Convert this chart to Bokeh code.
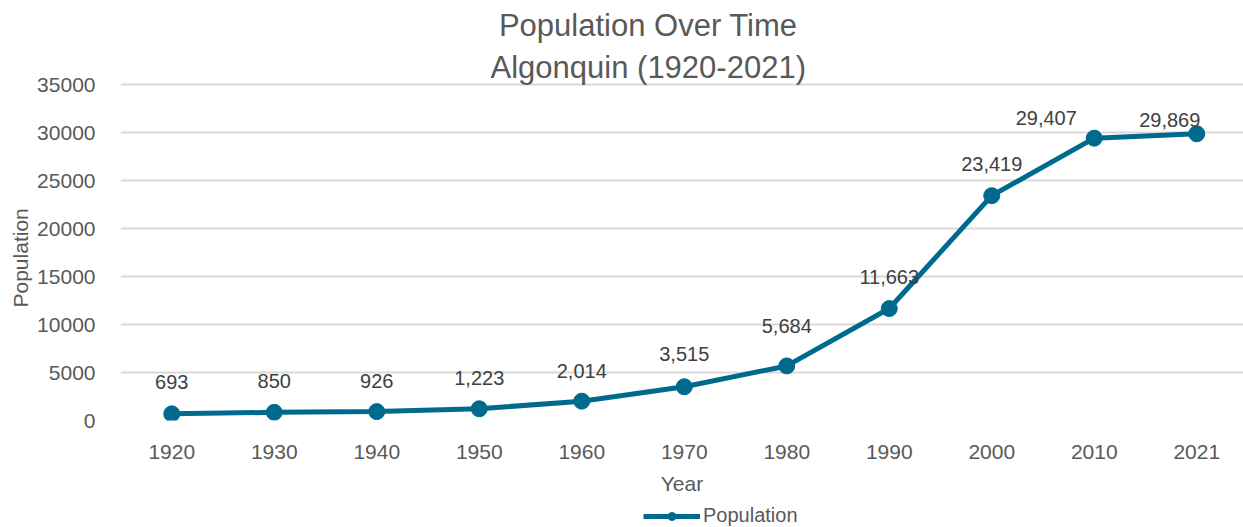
from bokeh.plotting import figure
from bokeh.layouts import column
from bokeh.models import (ColumnDataSource, Range1d, FixedTicker, Label, Legend, LegendItem, Title)
from bokeh.core.properties import value
from bokeh.embed import file_html
from bokeh.resources import INLINE

# ---- data ----
years = ["1920", "1930", "1940", "1950", "1960", "1970", "1980", "1990", "2000", "2010", "2021"]
population = [693, 850, 926, 1223, 2014, 3515, 5684, 11663, 23419, 29407, 29869]
y_ticks = [0, 5000, 10000, 15000, 20000, 25000, 30000, 35000]
title_lines = ["Population Over Time", "Algonquin (1920-2021)"]
x_label = "Year"
y_label = "Population"
series_name = "Population"

# label placement (pixels, style only)
lab_dx = [0, 0, 0, 0, 0, 0, 0, 0, 0, -48, -27]
lab_dy = [-32, -31, -31, -31, -30, -33, -40, -32, -32, -20, -14]

FONT = "'Liberation Sans', Arial, sans-serif"
GREY = "#595959"
DARK = "#404040"
BLUE = "#006a8e"

# layout in pixels
W, H, LEG_H = 1243, 527, 24
H_MAIN = H - LEG_H
FRAME_L, GRID_TOP, FRAME_B = 120, 84, 420
CAT_W = 102.5
px_unit = 35000 / (FRAME_B - GRID_TOP)
y_top = 35000 + GRID_TOP * px_unit

xs = list(range(len(years)))
src = ColumnDataSource(dict(
    x=xs, y=population,
    lab=[f"{v:,}" for v in population],
    dx=lab_dx, dy=lab_dy,
))

p = figure(width=W, height=H_MAIN, output_backend="svg", toolbar_location=None,
           x_range=Range1d(-0.5, -0.5 + (W - FRAME_L) / CAT_W), y_range=Range1d(0, y_top),
           min_border_left=FRAME_L, min_border_right=0, min_border_top=0,
           min_border_bottom=H_MAIN - FRAME_B)
p.outline_line_color = None
p.background_fill_color = "white"
p.border_fill_color = "white"

# grid
p.xgrid.grid_line_color = None
p.ygrid.grid_line_color = "#d9d9d9"
p.ygrid.grid_line_width = 2
p.yaxis.ticker = FixedTicker(ticks=y_ticks)
p.xaxis.ticker = FixedTicker(ticks=xs)
p.xaxis.major_label_overrides = {i: y for i, y in enumerate(years)}

for ax in (p.xaxis[0], p.yaxis[0]):
    ax.axis_line_color = None
    ax.major_tick_line_color = None
    ax.minor_tick_line_color = None
    ax.major_label_text_font = FONT
    ax.major_label_text_font_size = "21px"
    ax.major_label_text_color = GREY
    ax.axis_label_text_font = FONT
    ax.axis_label_text_font_size = "21px"
    ax.axis_label_text_font_style = "normal"
    ax.axis_label_text_color = GREY

p.xaxis.axis_label = x_label
p.xaxis.major_label_standoff = 18
p.xaxis.axis_label_standoff = 10
p.yaxis.major_label_standoff = 19

# y-axis title, placed along the gridded part of the frame
p.add_layout(Title(text=y_label, align="left", offset=113, standoff=5,
                   text_font=FONT, text_font_size="21px", text_font_style="normal",
                   text_color=GREY), "left")

p.line("x", "y", source=src, line_color=BLUE, line_width=5)
p.scatter("x", "y", source=src, size=16, fill_color=BLUE, line_color=BLUE)

p.text("x", "y", text="lab", source=src, x_offset="dx", y_offset="dy",
       text_align="center", text_baseline="middle",
       text_font=value(FONT), text_font_size="20px", text_color=DARK)

# chart title (two lines)
p.add_layout(Label(x=5, y=35000, x_offset=-36, y_offset=59, text=title_lines[0],
                   text_align="center", text_baseline="middle", text_font=FONT,
                   text_font_size="31px", text_color=GREY))
p.add_layout(Label(x=5, y=35000, x_offset=-36, y_offset=17, text=title_lines[1],
                   text_align="center", text_baseline="middle", text_font=FONT,
                   text_font_size="31px", text_color=GREY))

# ---- legend strip ----
lg = figure(width=W, height=LEG_H, output_backend="svg", toolbar_location=None,
            x_axis_type=None, y_axis_type=None,
            min_border_left=FRAME_L, min_border_right=0, min_border_top=0, min_border_bottom=0,
            x_range=Range1d(0, 1), y_range=Range1d(0, 1))
lg.outline_line_color = None
lg.xgrid.grid_line_color = None
lg.ygrid.grid_line_color = None
# same series, outside this strip's view so only its legend swatch shows
l_line = lg.line("x", "y", source=src, line_color=BLUE, line_width=5)
l_dot = lg.scatter("x", "y", source=src, size=16, fill_color=BLUE, line_color=BLUE)
legend = Legend(items=[LegendItem(label=series_name, renderers=[l_line, l_dot])],
                location=(523, 0), orientation="horizontal",
                padding=0, margin=0, spacing=0, glyph_width=57, glyph_height=20,
                label_standoff=3, label_text_font=FONT, label_text_font_size="20px",
                label_text_color=GREY, border_line_color=None, background_fill_alpha=0)
lg.add_layout(legend, "center")

layout = column(p, lg, spacing=0)
open("out.html", "w").write(file_html(layout, INLINE))
